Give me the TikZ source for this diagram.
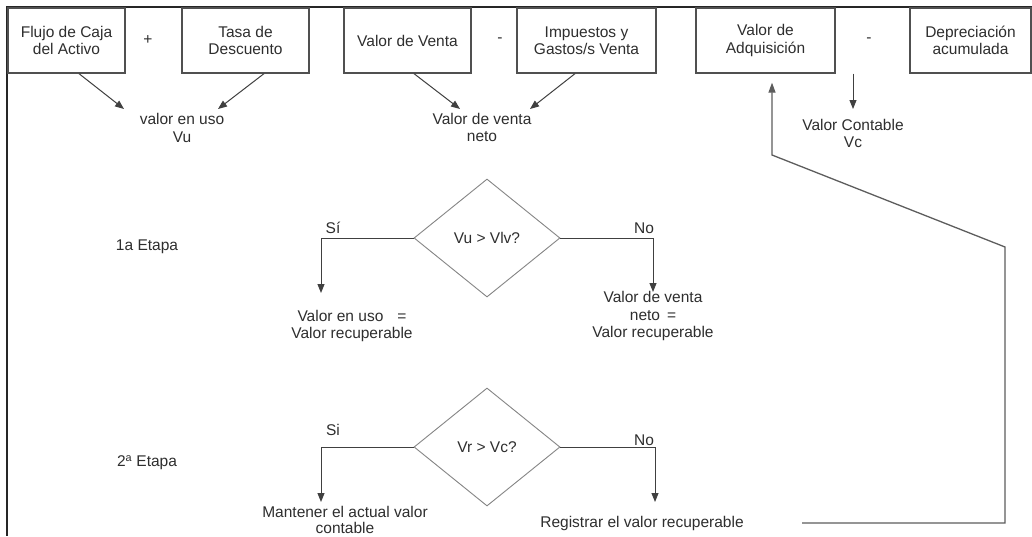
\documentclass[tikz,border=0pt]{standalone}
\usepackage{fontspec}
\setmainfont{Liberation Sans}
\usetikzlibrary{shapes.geometric,arrows.meta}
\definecolor{txt}{HTML}{2E2E2E}
\definecolor{boxc}{HTML}{505050}
\definecolor{arrc}{HTML}{404040}
\definecolor{diac}{HTML}{858585}
\begin{document}
\begin{tikzpicture}[x=1pt,y=-1pt,
  every node/.style={font=\fontsize{15.5}{17.5}\selectfont, text=txt, inner sep=0pt, align=center},
  topbox/.style={draw=boxc, line width=1.3pt, minimum height=65pt},
  decision/.style={diamond, draw=diac, line width=0.9pt, minimum width=146pt, minimum height=118pt, aspect=1.2},
  arr/.style={draw=arrc, line width=1pt, -{Triangle[length=9pt,width=7pt]}},
  feed/.style={draw=arrc!85, line width=1.3pt, -{Triangle[length=10pt,width=7pt]}}
]
\useasboundingbox (0,0) rectangle (1032,536);
\fill[white] (0,0) rectangle (1032,536);
% frame
\draw[line width=2pt, black!85] (1032,7) -- (7,7) -- (7,536);

% top boxes
\node[topbox, minimum width=117pt] (b1) at (66.5,40.5) {Flujo de Caja\\del Activo};
\node[topbox, minimum width=127pt] (b2) at (245.5,40.5) {Tasa de\\Descuento};
\node[topbox, minimum width=127pt] (b3) at (407.5,40.5) {Valor de Venta};
\node[topbox, minimum width=139pt] (b4) at (586.5,40.5) {Impuestos y\\Gastos/s Venta};
\node[topbox, minimum width=139pt] (b5) at (765.5,40.5) {Valor de\\Adquisición};
\node[topbox, minimum width=121pt] (b6) at (970.5,40.5) {Depreciación\\acumulada};

\node (op1) at (148,40) {+};
\node (op2) at (500,40) {-};
\node (op3) at (869,40) {-};

% results
\node (vu) at (182,128) {valor en uso\\Vu};
\node (vvn) at (482,127.5) {Valor de venta\\neto};
\node (vc) at (853,133.5) {Valor Contable\\Vc};

\coordinate (vul) at (124,109);
\coordinate (vur) at (218,109);
\coordinate (vvl) at (460,109);
\coordinate (vvr) at (530,109);
\coordinate (vct) at (853,109);

\draw[arr] ([xshift=12.5pt]b1.south) -- (vul);
\draw[arr] ([xshift=18.5pt]b2.south) -- (vur);
\draw[arr] ([xshift=6.5pt]b3.south) -- (vvl);
\draw[arr] ([xshift=-11.5pt]b4.south) -- (vvr);
\draw[arr] (vct |- b5.south) -- (vct);

% stage 1
\node (e1) at (147,247) {1a Etapa};
\node[decision] (d1) at (487,238) {Vu > Vlv?};
\node (v1) at (352,326) {Valor en uso\hspace{14pt}=\\Valor recuperable};
\node (v2) at (653,316) {Valor de venta\\neto\hspace{7pt}=\hspace*{30pt}\\Valor recuperable};
\coordinate (s1) at (321,293);
\coordinate (n1) at (653,292);
\draw[arr] (d1.west) -| (s1);
\draw[arr] (d1.east) -| (n1);
\node (si1) at (333,228) {Sí};
\node (no1) at (644,228) {No};

% stage 2
\node (e2) at (147,463) {2\textsuperscript{a} Etapa};
\node[decision] (d2) at (487,447) {Vr > Vc?};
\node[font=\fontsize{15.5}{16.5}\selectfont] (m1) at (345,520) {Mantener el actual valor\\contable};
\node (r1) at (642,523) {Registrar el valor recuperable};
\coordinate (s2) at (321,502);
\coordinate (n2) at (655,502);
\draw[arr] (d2.west) -| (s2);
\draw[arr] (d2.east) -| (n2);
\node (si2) at (333,430) {Si};
\node (no2) at (644,440) {No};

% feedback
\coordinate (f0) at (802,523);
\coordinate (f1) at (1005,523);
\coordinate (f2) at (1005,247);
\coordinate (f3) at (772,155);
\draw[feed, shorten >=9pt] (f0) -- (f1) -- (f2) -- (f3) -- (f3 |- b5.south);
\end{tikzpicture}
\end{document}
